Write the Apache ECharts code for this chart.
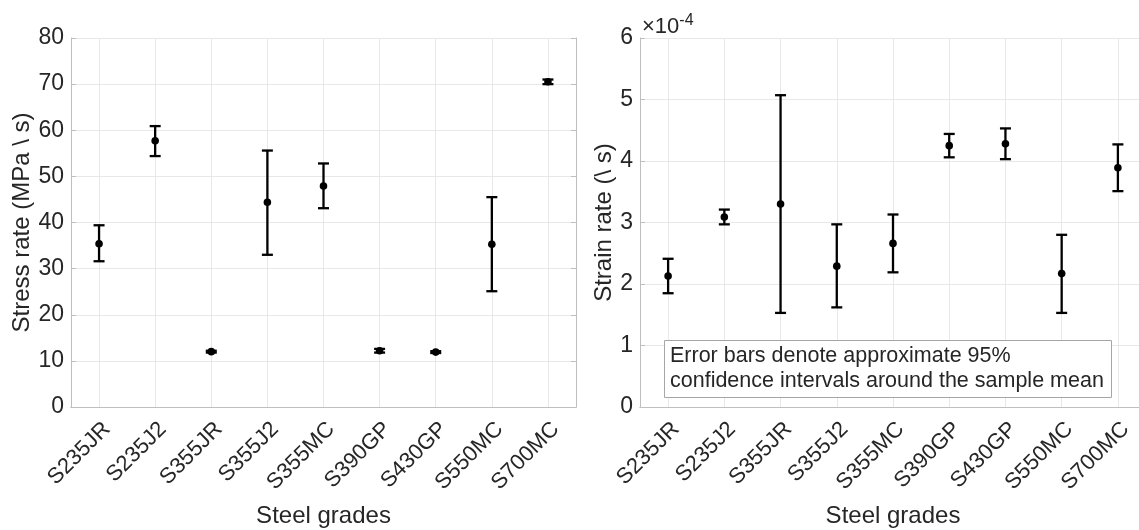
<!doctype html>
<html><head><meta charset="utf-8" />
<style>html,body,#app{margin:0;padding:0;width:1139px;height:530px;background:#fff;overflow:hidden}</style>
</head><body><div id="app"></div>
<script src="https://cdn.jsdelivr.net/npm/echarts@6.0.0/dist/echarts.min.js"></script>
<script>
// steel grades on both panels
const grades = ['S235JR','S235J2','S355JR','S355J2','S355MC','S390GP','S430GP','S550MC','S700MC'];

// stress rate (MPa/s): mean, lower and upper 95% CI
const stressMean = [35.4, 57.7, 12.0, 44.4, 47.9, 12.2, 11.9, 35.3, 70.5];
const stressLow  = [31.6, 54.4, 11.8, 33.0, 43.1, 11.8, 11.7, 25.1, 70.0];
const stressHigh = [39.4, 60.9, 12.2, 55.6, 52.8, 12.6, 12.1, 45.5, 71.0];

// strain rate (1/s, x1e-4)
const strainMean = [2.13, 3.09, 3.30, 2.29, 2.66, 4.25, 4.28, 2.17, 3.89];
const strainLow  = [1.85, 2.97, 1.53, 1.62, 2.19, 4.06, 4.03, 1.53, 3.51];
const strainHigh = [2.41, 3.21, 5.07, 2.97, 3.13, 4.44, 4.53, 2.80, 4.27];

const stressTicks = {min: 0, max: 80, interval: 10};
const strainTicks = {min: 0, max: 6, interval: 1};

(function(){
  const FONT = '"Liberation Sans", Arial, Helvetica, sans-serif';
  const TXT = '#262626';
  const BOX = '#bfbfbf';
  const GRID = '#e8e8e8';

  function rows(mean, lo, hi){ return mean.map((m,i)=>[i, m, lo[i], hi[i]]); }

  function renderErr(params, api){
    const x = api.value(0);
    const pM = api.coord([x, api.value(1)]);
    const pL = api.coord([x, api.value(2)]);
    const pH = api.coord([x, api.value(3)]);
    const cap = 5.5;
    const st = {stroke:'#000', lineWidth:2.3};
    return {type:'group', children:[
      {type:'line', shape:{x1:pL[0],y1:pL[1],x2:pH[0],y2:pH[1]}, style:st},
      {type:'line', shape:{x1:pL[0]-cap,y1:pL[1],x2:pL[0]+cap,y2:pL[1]}, style:st},
      {type:'line', shape:{x1:pH[0]-cap,y1:pH[1],x2:pH[0]+cap,y2:pH[1]}, style:st},
      {type:'circle', shape:{cx:pM[0], cy:pM[1], r:3.8}, style:{fill:'#000'}}
    ]};
  }

  function bottomX(gi){
    return {
      type:'category', gridIndex:gi, data:grades, position:'bottom', boundaryGap:true,
      name:'Steel grades', nameLocation:'middle', nameGap:97,
      nameTextStyle:{fontFamily:FONT, fontSize:24, color:TXT, verticalAlign:'top'},
      axisLine:{lineStyle:{color:BOX, width:1}},
      axisTick:{inside:true, alignWithLabel:true, length:5, lineStyle:{color:BOX}},
      axisLabel:{rotate:45, interval:0, margin:11, fontFamily:FONT, fontSize:22, color:TXT, verticalAlign:'top'},
      splitLine:{show:true, alignWithLabel:true, lineStyle:{color:GRID, width:1}}
    };
  }
  function topX(gi){
    return {
      type:'category', gridIndex:gi, data:grades, position:'top', boundaryGap:true,
      axisLine:{lineStyle:{color:BOX, width:1}},
      axisTick:{inside:true, alignWithLabel:true, length:5, lineStyle:{color:BOX}},
      axisLabel:{show:false}, splitLine:{show:false}
    };
  }
  function leftY(gi, ticks, name, gap){
    return {
      type:'value', gridIndex:gi, position:'left', min:ticks.min, max:ticks.max, interval:ticks.interval,
      name:name, nameLocation:'middle', nameGap:gap,
      nameTextStyle:{fontFamily:FONT, fontSize:24, color:TXT},
      axisLine:{show:true, lineStyle:{color:BOX, width:1}},
      axisTick:{show:true, inside:true, length:5, lineStyle:{color:BOX}},
      axisLabel:{margin:7, fontFamily:FONT, fontSize:23, color:TXT},
      splitLine:{show:true, lineStyle:{color:GRID, width:1}}
    };
  }
  function rightY(gi, ticks){
    return {
      type:'value', gridIndex:gi, position:'right', min:ticks.min, max:ticks.max, interval:ticks.interval,
      axisLine:{show:true, lineStyle:{color:BOX, width:1}},
      axisTick:{show:true, inside:true, length:5, lineStyle:{color:BOX}},
      axisLabel:{show:false}, splitLine:{show:false}
    };
  }

  const chart = echarts.init(document.getElementById('app'), null, {renderer:'canvas'});
  const option = {
    backgroundColor:'#fff',
    animation:false,
    textStyle:{fontFamily:FONT},
    title:[
      {
        text:'Error bars denote approximate 95%\nconfidence intervals around the sample mean',
        left:664, top:340, padding:[4,8,4,6],
        borderColor:'#a6a6a6', borderWidth:1, backgroundColor:'#fff',
        textStyle:{fontFamily:FONT, fontSize:21.5, fontWeight:'normal', color:TXT, lineHeight:25}
      },
      {
        text:'×10{s|-4}', left:642, top:13, padding:0,
        textStyle:{fontFamily:FONT, fontSize:22, fontWeight:'normal', color:TXT,
          rich:{s:{fontFamily:FONT, fontSize:16, color:TXT, verticalAlign:'top', padding:[0,0,12,0]}}}
      }
    ],
    grid:[
      {left:71, top:38, width:505, height:369, containLabel:false, outerBoundsMode:'none'},
      {left:640, top:38, width:506, height:369, containLabel:false, outerBoundsMode:'none'}
    ],
    xAxis:[bottomX(0), topX(0), bottomX(1), topX(1)],
    yAxis:[
      leftY(0, stressTicks, 'Stress rate (MPa \\ s)', 34),
      rightY(0, stressTicks),
      leftY(1, strainTicks, 'Strain rate (\\ s)', 22),
      rightY(1, strainTicks)
    ],
    series:[
      {type:'custom', name:'Stress rate', xAxisIndex:0, yAxisIndex:0, renderItem:renderErr,
       encode:{x:0, y:[1,2,3]}, data:rows(stressMean, stressLow, stressHigh), z:5},
      {type:'custom', name:'Strain rate', xAxisIndex:2, yAxisIndex:2, renderItem:renderErr,
       encode:{x:0, y:[1,2,3]}, data:rows(strainMean, strainLow, strainHigh), z:5}
    ]
  };
  chart.setOption(option);
  window.chartReady = true;
})();
</script></body></html>
